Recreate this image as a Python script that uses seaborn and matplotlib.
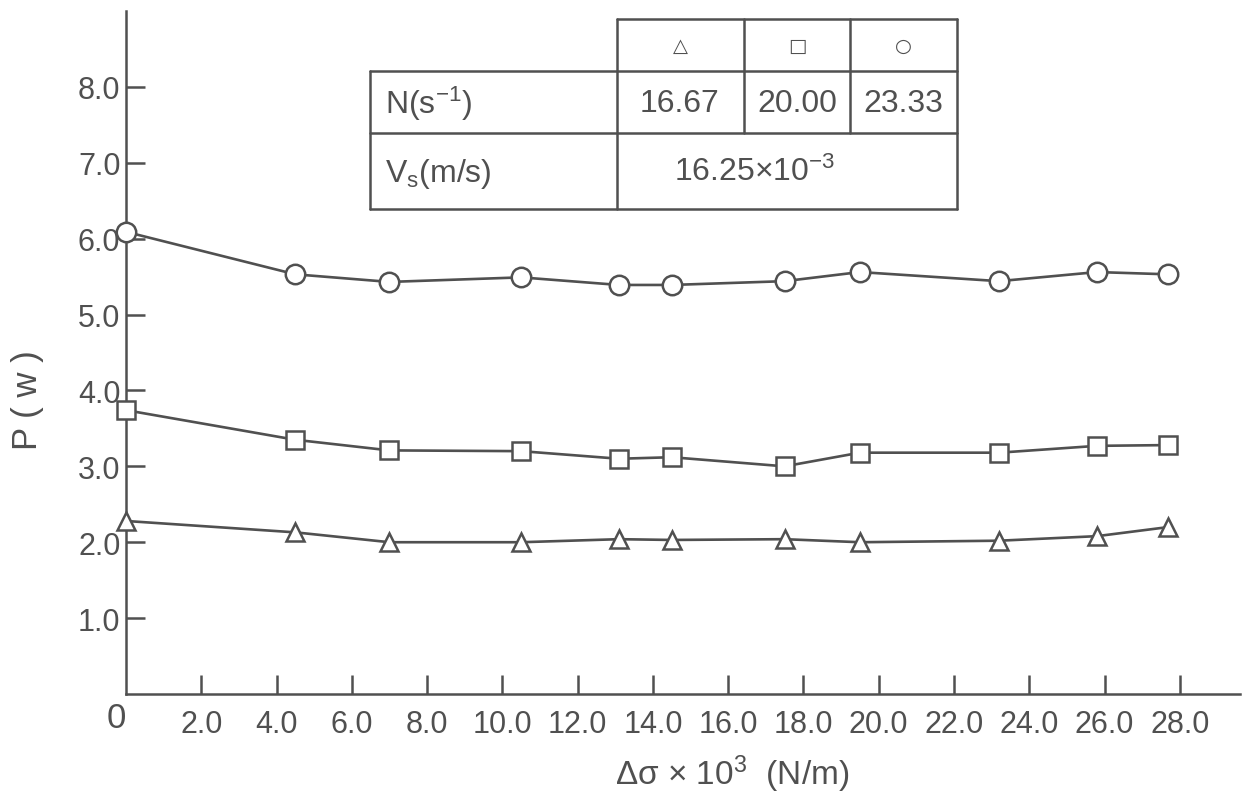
import matplotlib
matplotlib.use("Agg")
import matplotlib.pyplot as plt
import seaborn as sns
import pandas as pd
from matplotlib.lines import Line2D

# ---- data ----
x_vals = [0.0, 4.5, 7.0, 10.5, 13.1, 14.5, 17.5, 19.5, 23.2, 25.8, 27.7]
p_triangle = [2.28, 2.13, 2.00, 2.00, 2.04, 2.03, 2.04, 2.00, 2.02, 2.08, 2.20]
p_square = [3.74, 3.35, 3.21, 3.20, 3.10, 3.12, 3.00, 3.18, 3.18, 3.27, 3.28]
p_circle = [6.09, 5.53, 5.43, 5.49, 5.39, 5.39, 5.44, 5.56, 5.44, 5.56, 5.53]
speed_labels = ["16.67", "20.00", "23.33"]
vs_label = "16.25\u00d710$^{-3}$"
x_ticks = [2, 4, 6, 8, 10, 12, 14, 16, 18, 20, 22, 24, 26, 28]
x_tick_labels = ["2.0", "4.0", "6.0", "8.0", "10.0", "12.0", "14.0", "16.0",
                 "18.0", "20.0", "22.0", "24.0", "26.0", "28.0"]
y_ticks = [1, 2, 3, 4, 5, 6, 7, 8]
y_tick_labels = ["1.0", "2.0", "3.0", "4.0", "5.0", "6.0", "7.0", "8.0"]

sns.set_theme(style="white")
FAM = ["Liberation Sans", "DejaVu Sans"]
plt.rcParams["font.family"] = FAM
plt.rcParams["mathtext.fontset"] = "custom"
plt.rcParams["mathtext.rm"] = "Liberation Sans"
plt.rcParams["mathtext.it"] = "Liberation Sans"
INK = "#505050"

W, H = 1254, 804
fig = plt.figure(figsize=(W / 100, H / 100), dpi=100)
fig.patch.set_facecolor("white")

def fx(px):
    return px / W

def fy(py):
    return 1 - py / H

ax = fig.add_axes([fx(126), fy(695), (1240 - 126) / W, (695 - 12) / H])
ax.set_facecolor("white")

series = [
    (p_triangle, "^", 13),
    (p_square, "s", 13),
    (p_circle, "o", 14),
]
for yv, mk, ms in series:
    df = pd.DataFrame({"x": x_vals, "P": yv})
    sns.lineplot(data=df, x="x", y="P", ax=ax, color=INK, lw=1.9,
                 marker=mk, markersize=ms, markerfacecolor="white",
                 markeredgecolor=INK, markeredgewidth=1.8, sort=False,
                 estimator=None, clip_on=False, zorder=3)

ax.set_xlim(0, 29.6)
ax.set_ylim(0, 9.0)
for s in ["top", "right"]:
    ax.spines[s].set_visible(False)
for s in ["left", "bottom"]:
    ax.spines[s].set_color(INK)
    ax.spines[s].set_linewidth(1.8)

ax.set_xticks(x_ticks)
ax.set_xticklabels(x_tick_labels)
ax.set_yticks(y_ticks)
ax.set_yticklabels(y_tick_labels)
ax.tick_params(axis="both", direction="in", length=14, width=1.8, color=INK,
               labelcolor=INK, labelsize=22)
ax.tick_params(axis="x", pad=11)
ax.tick_params(axis="y", pad=4)
ax.tick_params(bottom=True, left=True)
ax.set_xlabel("")
ax.set_ylabel("")

ax.text(-0.25, -0.31, "0", transform=ax.transData, ha="center", va="center",
        fontsize=25, color=INK)

fig.text(fx(732), fy(774), "\u0394\u03c3 \u00d7 10$^3$  (N/m)", fontsize=24,
         color=INK, ha="center", va="center")
fig.text(fx(28), fy(400), "P ( w )", fontsize=25, color=INK, ha="center",
         va="center", rotation=90)

# ---- parameter table ----
def hline(y, x0, x1):
    fig.add_artist(Line2D([fx(x0), fx(x1)], [fy(y), fy(y)], color=INK, lw=1.8))

def vline(x, y0, y1):
    fig.add_artist(Line2D([fx(x), fx(x)], [fy(y0), fy(y1)], color=INK, lw=1.8))

hline(20, 617, 957)
hline(72, 370, 957)
hline(134, 370, 957)
hline(210, 370, 957)
vline(370, 72, 210)
vline(617, 20, 210)
vline(744, 20, 134)
vline(850, 20, 134)
vline(957, 20, 210)

tkw = dict(color=INK, fontsize=23, va="center")
fig.text(fx(680), fy(46), "\u25b3", ha="center", fontsize=14, color=INK,
         va="center", family="DejaVu Sans")
fig.text(fx(797), fy(46), "\u25a1", ha="center", fontsize=14, color=INK,
         va="center", family="DejaVu Sans")
fig.text(fx(903), fy(46), "\u25cb", ha="center", fontsize=14, color=INK,
         va="center", family="DejaVu Sans")
fig.text(fx(385), fy(104), "N(s$^{-1}$)", ha="left", **tkw)
for cx, lab in zip([680, 797, 903], speed_labels):
    fig.text(fx(cx), fy(104), lab, ha="center", **tkw)
fig.text(fx(385), fy(174), "V$_s$(m/s)", ha="left", **tkw)
fig.text(fx(755), fy(172), vs_label, ha="center", **tkw)

fig.savefig("out.png", dpi=100, facecolor="white")
